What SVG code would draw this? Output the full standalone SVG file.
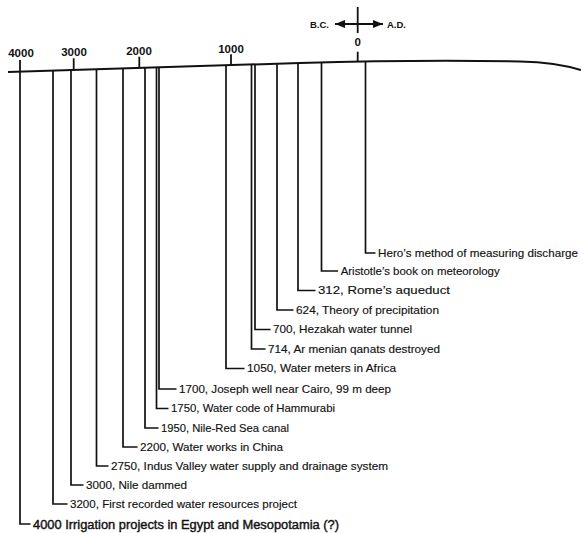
<svg xmlns="http://www.w3.org/2000/svg" width="581" height="533" viewBox="0 0 581 533">
<style>
  .bg { fill: #ffffff; }
  .axis { fill: none; stroke: #111; stroke-width: 2; }
  .tick { fill: none; stroke: #111; stroke-width: 1.8; }
  .conn { fill: none; stroke: #111; stroke-width: 1.7; }
  .yr { font-family: "Liberation Sans", Arial, sans-serif; font-size: 11.5px; font-weight: bold; fill: #111; text-anchor: middle; }
  .era { font-family: "Liberation Sans", Arial, sans-serif; font-size: 9.5px; font-weight: bold; fill: #111; }
  .lbl { font-family: "Liberation Sans", Arial, sans-serif; font-size: 11.5px; fill: #111; stroke: #111; stroke-width: 0.15; }
  .lblb { font-family: "Liberation Sans", Arial, sans-serif; font-size: 12.5px; fill: #111; stroke: #111; stroke-width: 0.4; }
</style>
<defs>
  <marker id="ah" markerUnits="userSpaceOnUse" markerWidth="11" markerHeight="9" refX="10" refY="4" orient="auto-start-reverse">
    <path d="M0,0 L10,4 L0,8 z" fill="#111"/>
  </marker>
</defs>
<rect class="bg" x="0" y="0" width="581" height="533"/>

<g id="era-arrow">
  <line class="tick" x1="357.7" y1="7" x2="357.7" y2="33"/>
  <line class="tick" x1="335" y1="24" x2="383" y2="24" marker-start="url(#ah)" marker-end="url(#ah)"/>
  <text class="era" x="310" y="28">B.C.</text>
  <text class="era" x="387" y="28">A.D.</text>
</g>

<g id="axis">
  <path class="axis" d="M8,72 L300,63 C380,60.6 470,60.4 520,61.4 C546,62 565,65 581,70"/>
  <line class="tick" x1="20" y1="60" x2="20" y2="72"/>
  <line class="tick" x1="73.7" y1="58.3" x2="73.7" y2="70"/>
  <line class="tick" x1="139.3" y1="56.7" x2="139.3" y2="68"/>
  <line class="tick" x1="231" y1="54.3" x2="231" y2="65.2"/>
  <line class="tick" x1="357.7" y1="51.7" x2="357.7" y2="61.8"/>
  <text class="yr" x="21" y="57">4000</text>
  <text class="yr" x="74" y="56">3000</text>
  <text class="yr" x="139" y="55">2000</text>
  <text class="yr" x="231" y="53">1000</text>
  <text class="yr" x="357.7" y="46">0</text>
</g>

<g id="connectors">
  <path class="conn" d="M365.5,61.6 V253 H375.5"/>
  <path class="conn" d="M321.5,62.5 V271 H338"/>
  <path class="conn" d="M298,63.1 V290.5 H315.5"/>
  <path class="conn" d="M277,63.7 V310 H293.5"/>
  <path class="conn" d="M255,64.4 V329.5 H270.5"/>
  <path class="conn" d="M251.5,64.5 V349 H265.5"/>
  <path class="conn" d="M226,65.3 V368.5 H244.5"/>
  <path class="conn" d="M159,67.3 V389 H176.5"/>
  <path class="conn" d="M156.5,67.4 V408.5 H168.5"/>
  <path class="conn" d="M145,67.8 V428 H158.5"/>
  <path class="conn" d="M123,68.5 V447 H137.5"/>
  <path class="conn" d="M96.5,69.3 V466 H108.5"/>
  <path class="conn" d="M71,70.1 V485 H83.5"/>
  <path class="conn" d="M53,70.6 V504 H67.5"/>
  <path class="conn" d="M20,71.6 V524 H30.5"/>
</g>

<g id="ev-hero"><text class="lbl" x="378" y="256.5" textLength="200" lengthAdjust="spacingAndGlyphs">Hero’s method of measuring discharge</text></g>
<g id="ev-aristotle"><text class="lbl" x="340.7" y="274.5" textLength="159" lengthAdjust="spacingAndGlyphs">Aristotle’s book on meteorology</text></g>
<g id="ev-312"><text class="lbl" x="318" y="294" textLength="132" lengthAdjust="spacingAndGlyphs">312, Rome’s aqueduct</text></g>
<g id="ev-624"><text class="lbl" x="296" y="313.5" textLength="143" lengthAdjust="spacingAndGlyphs">624, Theory of precipitation</text></g>
<g id="ev-700"><text class="lbl" x="273" y="333" textLength="139" lengthAdjust="spacingAndGlyphs">700, Hezakah water tunnel</text></g>
<g id="ev-714"><text class="lbl" x="268" y="352.5" textLength="172" lengthAdjust="spacingAndGlyphs">714, Ar menian qanats destroyed</text></g>
<g id="ev-1050"><text class="lbl" x="247" y="372" textLength="149" lengthAdjust="spacingAndGlyphs">1050, Water meters in Africa</text></g>
<g id="ev-1700"><text class="lbl" x="179" y="392.5" textLength="212" lengthAdjust="spacingAndGlyphs">1700, Joseph well near Cairo, 99 m deep</text></g>
<g id="ev-1750"><text class="lbl" x="171" y="412" textLength="164" lengthAdjust="spacingAndGlyphs">1750, Water code of Hammurabi</text></g>
<g id="ev-1950"><text class="lbl" x="161" y="431.5" textLength="128" lengthAdjust="spacingAndGlyphs">1950, Nile-Red Sea canal</text></g>
<g id="ev-2200"><text class="lbl" x="140" y="450.5" textLength="143" lengthAdjust="spacingAndGlyphs">2200, Water works in China</text></g>
<g id="ev-2750"><text class="lbl" x="111" y="469.5" textLength="277" lengthAdjust="spacingAndGlyphs">2750, Indus Valley water supply and drainage system</text></g>
<g id="ev-3000"><text class="lbl" x="86" y="488.5" textLength="101" lengthAdjust="spacingAndGlyphs">3000, Nile dammed</text></g>
<g id="ev-3200"><text class="lbl" x="70" y="507.5" textLength="227" lengthAdjust="spacingAndGlyphs">3200, First recorded water resources project</text></g>
<g id="ev-4000"><text class="lblb" x="33" y="528.5" textLength="306" lengthAdjust="spacingAndGlyphs">4000 Irrigation projects in Egypt and Mesopotamia (?)</text></g>
</svg>
